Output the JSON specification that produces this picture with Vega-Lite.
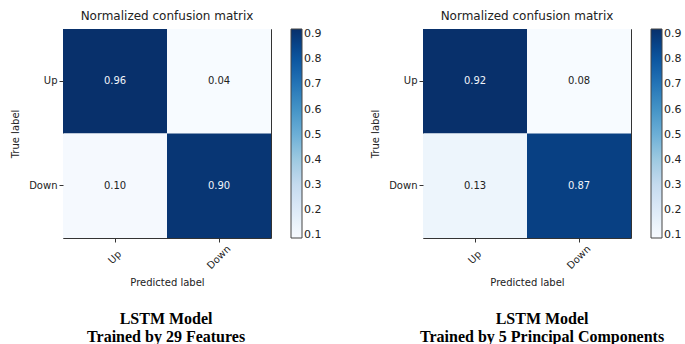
{
  "$schema": "https://vega.github.io/schema/vega-lite/v6.json",
  "padding": {"left": 10, "top": 9, "right": 0, "bottom": 0},
  "background": "white",
  "config": {
    "font": "DejaVu Sans",
    "view": {"stroke": "#333", "strokeWidth": 1},
    "axis": {
      "domain": false,
      "grid": false,
      "ticks": true,
      "tickSize": 4,
      "tickColor": "#333",
      "labelColor": "#222",
      "labelFontSize": 10,
      "labelFont": "DejaVu Sans",
      "titleFont": "DejaVu Sans",
      "titleFontSize": 10,
      "titleFontWeight": "normal",
      "titleColor": "#222"
    },
    "axisY": {"labelPadding": 2, "titlePadding": 8, "labelAngle": 0},
    "axisX": {"labelAngle": -45, "labelAlign": "center", "labelBaseline": "middle", "labelPadding": 15, "titlePadding": 7},
    "legend": {
      "gradientLength": 209,
      "gradientThickness": 11,
      "offset": 19,
      "labelFontSize": 11,
      "labelFont": "DejaVu Sans",
      "labelColor": "#222",
      "labelOffset": 5,
      "gradientStrokeColor": "#444",
      "gradientStrokeWidth": 1
    },
    "title": {"font": "DejaVu Sans", "fontSize": 12, "fontWeight": "normal", "color": "#222", "offset": 6}
  },
  "datasets": {
    "m1": [
      {"actual": "Up", "predicted": "Up", "value": 0.96},
      {"actual": "Up", "predicted": "Down", "value": 0.04},
      {"actual": "Down", "predicted": "Up", "value": 0.10},
      {"actual": "Down", "predicted": "Down", "value": 0.90}
    ],
    "m2": [
      {"actual": "Up", "predicted": "Up", "value": 0.92},
      {"actual": "Up", "predicted": "Down", "value": 0.08},
      {"actual": "Down", "predicted": "Up", "value": 0.13},
      {"actual": "Down", "predicted": "Down", "value": 0.87}
    ]
  },
  "spacing": 48,
  "resolve": {"scale": {"color": "independent"}, "legend": {"color": "independent"}},
  "hconcat": [
    {
      "title": {"text": ["LSTM Model", "Trained by 29 Features"], "orient": "bottom", "anchor": "middle", "font": "Liberation Serif", "fontSize": 16, "fontWeight": "bold", "color": "black", "lineHeight": 18, "offset": 23},
      "vconcat": [
        {
          "title": "Normalized confusion matrix",
          "width": 208,
          "height": 209,
          "data": {"name": "m1"},
          "encoding": {
            "x": {"field": "predicted", "type": "nominal", "sort": ["Up", "Down"], "title": "Predicted label"},
            "y": {"field": "actual", "type": "nominal", "sort": ["Up", "Down"], "title": "True label"}
          },
          "layer": [
            {
              "mark": {"type": "rect"},
              "encoding": {
                "color": {
                  "field": "value", "type": "quantitative",
                  "scale": {"type": "linear", "clamp": true, "interpolate": "rgb",
                    "domain": [0.09, 0.19375, 0.2975, 0.40125, 0.505, 0.60875, 0.7125, 0.81625, 0.92],
                    "range": ["#f7fbff", "#deebf7", "#c6dbef", "#9ecae1", "#6baed6", "#4292c6", "#2171b5", "#08519c", "#08306b"]},
                  "legend": {"title": null, "values": [0.1, 0.2, 0.3, 0.4, 0.5, 0.6, 0.7, 0.8, 0.9], "format": ".1f"}
                }
              }
            },
            {
              "mark": {"type": "text", "fontSize": 10, "font": "DejaVu Sans"},
              "encoding": {
                "text": {"field": "value", "type": "quantitative", "format": ".2f"},
                "color": {"condition": {"test": "datum.value > 0.5", "value": "#f0f4fa"}, "value": "#222"}
              }
            }
          ]
        }
      ]
    },
    {
      "title": {"text": ["LSTM Model", "Trained by 5 Principal Components"], "orient": "bottom", "anchor": "middle", "font": "Liberation Serif", "fontSize": 16, "fontWeight": "bold", "color": "black", "lineHeight": 18, "offset": 23, "dx": 16},
      "vconcat": [
        {
          "title": "Normalized confusion matrix",
          "width": 208,
          "height": 209,
          "data": {"name": "m2"},
          "encoding": {
            "x": {"field": "predicted", "type": "nominal", "sort": ["Up", "Down"], "title": "Predicted label"},
            "y": {"field": "actual", "type": "nominal", "sort": ["Up", "Down"], "title": "True label"}
          },
          "layer": [
            {
              "mark": {"type": "rect"},
              "encoding": {
                "color": {
                  "field": "value", "type": "quantitative",
                  "scale": {"type": "linear", "clamp": true, "interpolate": "rgb",
                    "domain": [0.09, 0.19375, 0.2975, 0.40125, 0.505, 0.60875, 0.7125, 0.81625, 0.92],
                    "range": ["#f7fbff", "#deebf7", "#c6dbef", "#9ecae1", "#6baed6", "#4292c6", "#2171b5", "#08519c", "#08306b"]},
                  "legend": {"title": null, "values": [0.1, 0.2, 0.3, 0.4, 0.5, 0.6, 0.7, 0.8, 0.9], "format": ".1f"}
                }
              }
            },
            {
              "mark": {"type": "text", "fontSize": 10, "font": "DejaVu Sans"},
              "encoding": {
                "text": {"field": "value", "type": "quantitative", "format": ".2f"},
                "color": {"condition": {"test": "datum.value > 0.5", "value": "#f0f4fa"}, "value": "#222"}
              }
            }
          ]
        }
      ]
    }
  ]
}
